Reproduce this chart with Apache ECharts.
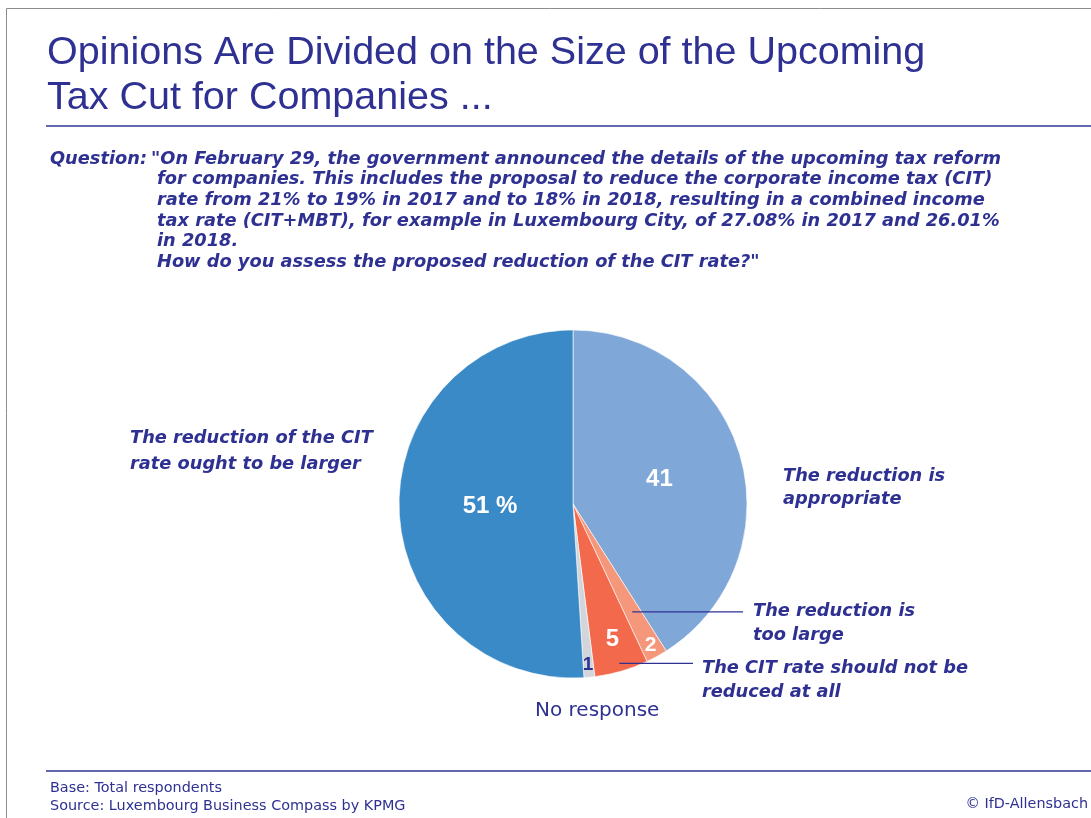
<!DOCTYPE html>
<html>
<head>
<meta charset="utf-8">
<style>
  html, body { margin: 0; padding: 0; background: #ffffff; }
  #chart { width: 1091px; height: 818px; }
</style>
<script src="https://cdn.jsdelivr.net/npm/echarts@6/dist/echarts.min.js"></script>
</head>
<body>
<div id="chart"></div>
<script>
// Survey answers, clockwise from 12 o'clock
const categories = [
  'The reduction is\nappropriate',
  'The reduction is\ntoo large',
  'The CIT rate should not be\nreduced at all',
  'No response',
  'The reduction of the CIT\nrate ought to be larger'
];
const shares = [41, 2, 5, 1, 51];
const shareLabels = ['41', '2', '5', '1', '51 %'];
const sliceColors = ['#7FA7D8', '#F5977A', '#F2694B', '#D2D5DA', '#3B8AC8'];

const titleLines = [
  'Opinions Are Divided on the Size of the Upcoming',
  'Tax Cut for Companies ...'
];
const questionLead = 'Question:';
const questionLines = [
  '"On February 29, the government announced the details of the upcoming tax reform',
  'for companies. This includes the proposal to reduce the corporate income tax (CIT)',
  'rate from 21% to 19% in 2017 and to 18% in 2018, resulting in a combined income',
  'tax rate (CIT+MBT), for example in Luxembourg City, of 27.08% in 2017 and 26.01%',
  'in 2018.',
  'How do you assess the proposed reduction of the CIT rate?"'
];
const footerLines = ['Base: Total respondents', 'Source: Luxembourg Business Compass by KPMG'];
const copyright = '\u00A9 IfD-Allensbach';

const NAVY = '#2E3192';
const RULE = '#6466B0';
const SANS = '"Liberation Sans", Arial, sans-serif';
const WIDE = '"DejaVu Sans", Verdana, sans-serif';
const PIE_C = [573, 504];
const PIE_R = 174;

const chart = echarts.init(document.getElementById('chart'), null, { renderer: 'canvas' });

// mid angle (degrees clockwise from 12 o'clock) of slice i
const total = shares.reduce((a, b) => a + b, 0);
function midAngle(i) {
  let before = 0;
  for (let k = 0; k < i; k++) before += shares[k];
  return (before + shares[i] / 2) / total * 360;
}
function polar(i, r) {
  const a = midAngle(i) * Math.PI / 180;
  return [PIE_C[0] + r * Math.sin(a), PIE_C[1] - r * Math.cos(a)];
}

function pieData(showIdx, labelStyles) {
  return shares.map((v, i) => ({
    value: v,
    name: categories[i],
    label: Object.assign({ show: showIdx.indexOf(i) >= 0, formatter: shareLabels[i] }, labelStyles[i] || {})
  }));
}

const valueFont = { fontFamily: SANS, fontWeight: 'bold', color: '#ffffff' };

// leader lines from inside the small slices out to their captions
const leadTooLarge = polar(1, 123);
const leadNotReduced = polar(2, 166);

const catFont = 'italic bold 17.8px ' + WIDE;

const graphic = [
  // page frame
  { type: 'rect', shape: { x: 6.5, y: 8.5, width: 1200, height: 900 }, style: { fill: 'none', stroke: '#8C8C8C', lineWidth: 1 }, silent: true },
  // title
  { type: 'text', style: { text: titleLines.join('\n'), x: 47, y: 31, font: '39.5px ' + SANS, fill: NAVY, lineHeight: 45, textVerticalAlign: 'top' } },
  { type: 'line', shape: { x1: 46, y1: 126, x2: 1091, y2: 126 }, style: { stroke: RULE, lineWidth: 2 } },
  // question
  { type: 'text', style: { text: questionLead, x: 50, y: 159, font: catFont, fill: NAVY, textVerticalAlign: 'middle' } },
  { type: 'text', style: { text: questionLines[0], x: 151, y: 159, font: catFont, fill: NAVY, textVerticalAlign: 'middle' } },
  { type: 'text', style: { text: questionLines.slice(1).join('\n'), x: 157, y: 169.5, font: catFont, fill: NAVY, lineHeight: 20.6, textVerticalAlign: 'top' } },
  // category captions
  { type: 'text', style: { text: categories[4], x: 130, y: 425, font: catFont, fill: NAVY, lineHeight: 26, textVerticalAlign: 'top' } },
  { type: 'text', style: { text: categories[0], x: 783, y: 464.5, font: catFont, fill: NAVY, lineHeight: 23, textVerticalAlign: 'top' } },
  { type: 'text', style: { text: categories[1], x: 753, y: 599, font: catFont, fill: NAVY, lineHeight: 24, textVerticalAlign: 'top' } },
  { type: 'text', style: { text: categories[2], x: 702, y: 656, font: catFont, fill: NAVY, lineHeight: 24, textVerticalAlign: 'top' } },
  { type: 'text', style: { text: categories[3], x: 535, y: 711, font: '20px ' + WIDE, fill: NAVY, textVerticalAlign: 'middle' } },
  { type: 'line', shape: { x1: leadTooLarge[0], y1: leadTooLarge[1], x2: 743, y2: leadTooLarge[1] }, style: { stroke: NAVY, lineWidth: 1.3 }, z: 10 },
  { type: 'line', shape: { x1: leadNotReduced[0], y1: leadNotReduced[1], x2: 693, y2: leadNotReduced[1] }, style: { stroke: NAVY, lineWidth: 1.3 }, z: 10 },
  // footer
  { type: 'line', shape: { x1: 46, y1: 771, x2: 1091, y2: 771 }, style: { stroke: RULE, lineWidth: 2 } },
  { type: 'text', style: { text: footerLines.join('\n'), x: 50, y: 779, font: '14.4px ' + WIDE, fill: NAVY, lineHeight: 18, textVerticalAlign: 'top' } },
  { type: 'text', style: { text: copyright, x: 1088, y: 797, font: '14.4px ' + WIDE, fill: NAVY, textAlign: 'right', textVerticalAlign: 'top' } }
];

const baseSeries = {
  type: 'pie',
  center: PIE_C,
  startAngle: 90,
  clockwise: true,
  animation: false,
  silent: true,
  labelLine: { show: false },
  emphasis: { disabled: true }
};

const option = {
  animation: false,
  color: sliceColors,
  series: [
    // the pie itself, with the "41" share labelled inside
    Object.assign({}, baseSeries, {
      radius: [0, PIE_R],
      itemStyle: { borderColor: '#ffffff', borderWidth: 0.6 },
      label: { position: 'inside' },
      data: pieData([0], {
        0: Object.assign({ fontSize: 24 }, valueFont)
      })
    }),
    // inner label ring for the "51 %" share
    Object.assign({}, baseSeries, {
      radius: [0, 160],
      itemStyle: { color: 'rgba(0,0,0,0)', borderWidth: 0 },
      label: { position: 'inside' },
      data: pieData([4], {
        4: Object.assign({ fontSize: 24 }, valueFont)
      })
    }),
    // label ring for the "2" and "1" shares near the rim
    Object.assign({}, baseSeries, {
      radius: [142, PIE_R],
      itemStyle: { color: 'rgba(0,0,0,0)', borderWidth: 0 },
      label: { position: 'inside' },
      data: pieData([1, 3], {
        1: Object.assign({ fontSize: 21 }, valueFont),
        3: { fontSize: 19, fontFamily: SANS, fontWeight: 'bold', color: NAVY }
      })
    }),
    // label ring for the "5" share
    Object.assign({}, baseSeries, {
      radius: [102, PIE_R],
      itemStyle: { color: 'rgba(0,0,0,0)', borderWidth: 0 },
      label: { position: 'inside' },
      data: pieData([2], {
        2: Object.assign({ fontSize: 24 }, valueFont)
      })
    })
  ],
  graphic: graphic
};

chart.setOption(option);
</script>
</body>
</html>
